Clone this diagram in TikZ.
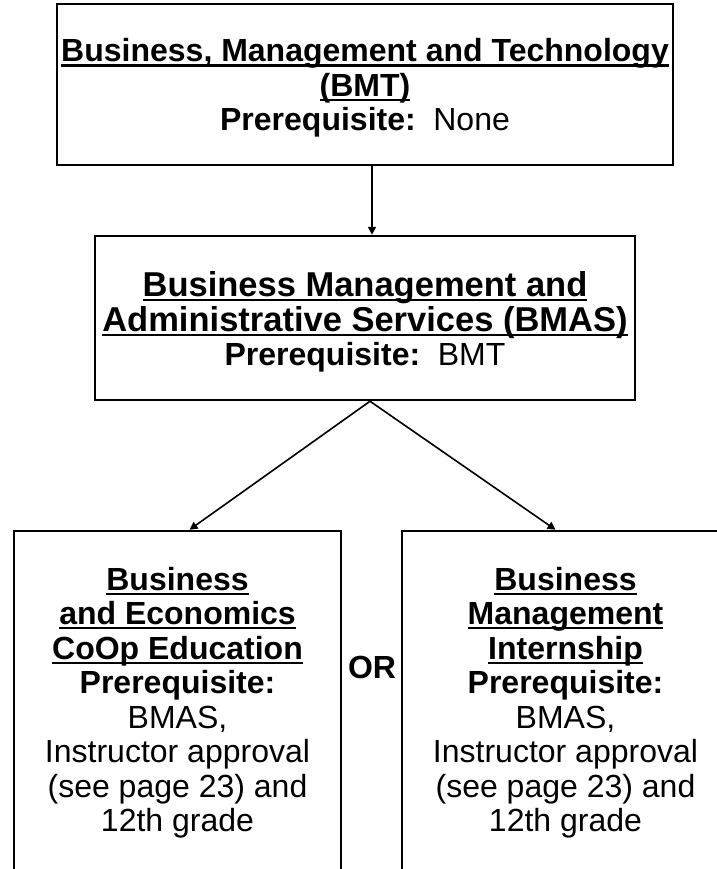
\documentclass[tikz,border=0pt]{standalone}
\usepackage{fontspec}
\setmainfont{Liberation Sans}
\usetikzlibrary{arrows.meta}
\newcommand{\ulx}[1]{\sbox0{#1}\rlap{\rule[-4.8pt]{\wd0}{2.3pt}}\usebox0}
\newcommand{\bigt}[1]{{\fontsize{34.5}{34.5}\selectfont\textbf{\ulx{#1}}}}
\begin{document}
\begin{tikzpicture}[x=1pt,y=-1pt,
  box/.style={draw, line width=2.5pt, inner sep=0pt},
  txt/.style={align=center, inner sep=0pt, font=\fontsize{32}{34.5}\selectfont},
  conn/.style={line width=1.6pt, -{Triangle[length=8pt,width=8pt]}},
  ortext/.style={font=\fontsize{32}{34.5}\selectfont\bfseries}]
\useasboundingbox (0,0) rectangle (716,869);
\node[box, minimum width=616pt, minimum height=161pt] (bmt) at (365,84.5) {};
\node[txt] (bmtt) at ([yshift=-3.5pt]bmt.center)
  {\textbf{\ulx{Business, Management and Technology}}\\
   \textbf{\ulx{(BMT)}}\\
   \textbf{Prerequisite:}\hspace{0.55em}None};
\node[box, minimum width=540pt, minimum height=164pt] (bmas) at (365,318) {};
\node[txt] (bmast) at ([yshift=-4pt]bmas.center)
  {\bigt{Business Management and}\\
   \bigt{Administrative Services (BMAS)}\\
   \textbf{Prerequisite:}\hspace{0.55em}BMT};
\node[box, minimum width=327pt, minimum height=340pt] (coop) at (177.5,701) {};
\node[txt] (coopt) at ([yshift=-1.5pt]coop.center)
  {\textbf{\ulx{Business}}\\
   \textbf{\ulx{and Economics}}\\
   \textbf{\ulx{CoOp Education}}\\
   \textbf{Prerequisite:}\\
   BMAS,\\
   Instructor approval\\
   (see page 23) and\\
   12th grade};
\node[box, minimum width=327pt, minimum height=340pt] (intern) at (565.5,701) {};
\node[txt] (internt) at ([yshift=-1.5pt]intern.center)
  {\textbf{\ulx{Business}}\\
   \textbf{\ulx{Management}}\\
   \textbf{\ulx{Internship}}\\
   \textbf{Prerequisite:}\\
   BMAS,\\
   Instructor approval\\
   (see page 23) and\\
   12th grade};
\node[ortext] (or) at (372,667) {OR};
\draw[conn] ([xshift=7pt]bmt.south) -- ([xshift=7pt]bmas.north);
\draw[conn] ([xshift=5pt]bmas.south) -- ([xshift=12pt]coop.north);
\draw[conn] ([xshift=5pt]bmas.south) -- ([xshift=-10pt]intern.north);
\end{tikzpicture}
\end{document}
